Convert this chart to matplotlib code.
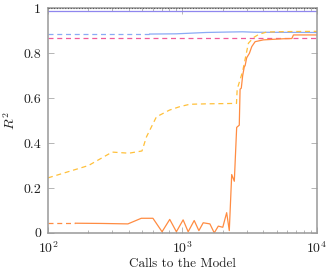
import numpy as np
from matplotlib import pyplot as plt
from matplotlib.ticker import FixedLocator, FuncFormatter, LogLocator, NullFormatter

plt.rcParams['font.family'] = 'serif'
plt.rcParams['font.serif'] = ['cmr10']
plt.rcParams['mathtext.fontset'] = 'cm'
plt.rcParams['axes.formatter.use_mathtext'] = True

# reference levels
top_level = 1.0
purple_level = 0.989
pink_level = 0.867

# blue: dashed part then solid part
blue_dash_x = [100, 570]
blue_dash_y = [0.887, 0.887]
blue_x = [570, 900, 1500, 2200, 2800, 3500, 10000]
blue_y = [0.886, 0.887, 0.893, 0.895, 0.896, 0.894, 0.893]

# yellow dashed
yellow_x = [100, 200, 300, 400, 500, 540, 640, 800, 950, 1130, 1500, 2000, 2520,
            2550, 2800, 3090, 3370, 3700, 4240, 6000, 10000]
yellow_y = [0.245, 0.30, 0.36, 0.355, 0.365, 0.428, 0.517, 0.547, 0.562, 0.573, 0.575, 0.576, 0.577,
            0.64, 0.72, 0.845, 0.87, 0.885, 0.895, 0.897, 0.898]

# orange: dashed start then solid
orange_dash_x = [100, 160]
orange_dash_y = [0.043, 0.043]
orange_x = [160, 250, 393, 494, 603, 705, 804, 901, 1011, 1102, 1222, 1324, 1426, 1599, 1722,
            1846, 1993, 2130, 2228, 2322, 2428, 2528, 2643, 2680, 2736, 2800, 2880, 2920,
            3000, 3142, 3273, 3467, 3990, 5620, 6500, 6680, 10000]
orange_y = [0.043, 0.042, 0.040, 0.065, 0.065, 0.005, 0.060, 0.005, 0.058, 0.005, 0.055, 0.010,
            0.045, 0.040, 0.000, 0.030, 0.025, 0.090, 0.010, 0.260, 0.230, 0.470, 0.480, 0.640,
            0.645, 0.700, 0.740, 0.745, 0.780, 0.800, 0.830, 0.852, 0.860, 0.865, 0.866, 0.882,
            0.882]

fig = plt.figure(figsize=(3.33, 2.73), dpi=100)
ax = fig.add_axes([0.144, 0.147, 0.808, 0.822])

ax.axhline(top_level, color='#555555', lw=0.8, ls=(0, (1, 1.5)), zorder=3)
ax.axhline(purple_level, color='#8f86ee', lw=0.9)
ax.plot(blue_dash_x, blue_dash_y, color='#8aaaf5', lw=0.9, ls=(0, (4, 3)))
ax.plot(blue_x, blue_y, color='#8aaaf5', lw=0.9)
ax.axhline(pink_level, color='#f05a9a', lw=0.9, ls=(0, (4, 3)))
ax.plot(yellow_x, yellow_y, color='#ffc03a', lw=0.9, ls=(0, (4, 3)))
ax.plot(orange_dash_x, orange_dash_y, color='#ff8c42', lw=0.9, ls=(0, (4, 3)))
ax.plot(orange_x, orange_y, color='#ff8c42', lw=0.9)

ax.set_xscale('log')
ax.set_xlim(100, 10000)
ax.set_ylim(0, 1)
ax.xaxis.set_major_locator(FixedLocator([100, 1000, 10000]))
ax.xaxis.set_minor_locator(LogLocator(base=10, subs=np.arange(2, 10)))
ax.xaxis.set_minor_formatter(NullFormatter())
ax.yaxis.set_major_locator(FixedLocator([0, 0.2, 0.4, 0.6, 0.8, 1]))
ax.yaxis.set_major_formatter(FuncFormatter(lambda v, p: '%g' % v))

for s in ax.spines.values():
    s.set_color('#999999')
    s.set_linewidth(1.1)
ax.tick_params(which='both', direction='in', top=True, right=True, colors='#aaaaaa',
               labelcolor='#222222', labelsize=10)
ax.tick_params(which='major', length=4, width=0.6)
ax.tick_params(which='minor', length=2.5, width=0.6)
ax.tick_params(axis='x', pad=5)
ax.tick_params(axis='y', pad=5)

ax.set_xlabel('Calls to the Model', fontsize=9.5, color='#222222', labelpad=2)
ax.set_ylabel('$R^2$', fontsize=10, color='#222222', labelpad=4)

fig.savefig('out.png', dpi=100)
